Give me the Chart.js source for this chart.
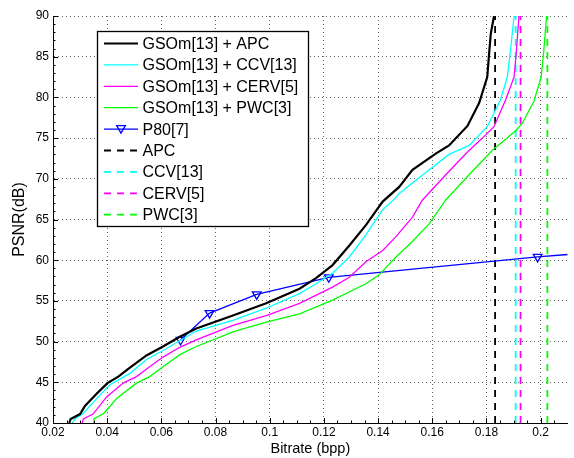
<!DOCTYPE html>
<html>
<head>
<meta charset="utf-8">
<script src="https://cdn.jsdelivr.net/npm/chart.js@4.4.1/dist/chart.umd.min.js"></script>
<style>
html, body { margin: 0; padding: 0; background: #fff; }
</style>
</head>
<body>
<canvas id="chart" width="574" height="458"></canvas>
<script>
// ejes
const xTicks = [0.02, 0.04, 0.06, 0.08, 0.1, 0.12, 0.14, 0.16, 0.18, 0.2];
const yTicks = [40, 45, 50, 55, 60, 65, 70, 75, 80, 85, 90];

// GSOm[13] + APC
const apcX = [0.026, 0.0265, 0.030, 0.0318, 0.0361, 0.0401, 0.0441, 0.0484, 0.0545, 0.0606, 0.0668, 0.0729, 0.0864, 0.0987, 0.111, 0.1171, 0.1232, 0.1294, 0.1355, 0.1417, 0.1478, 0.1527, 0.1613, 0.1662, 0.173, 0.1773, 0.1803, 0.181, 0.1816, 0.1828];
const apcY = [40, 40.5, 41.1, 42.1, 43.6, 44.9, 45.7, 46.8, 48.3, 49.4, 50.6, 51.6, 53.2, 54.7, 56.5, 57.8, 59.4, 61.8, 64.3, 67.2, 69.0, 71.1, 73.1, 74.1, 76.5, 79.3, 82.5, 85.4, 87.8, 90];

// GSOm[13] + CCV[13]
const ccvX = [0.0271, 0.0281, 0.0312, 0.0361, 0.041, 0.0484, 0.0545, 0.0606, 0.0668, 0.0729, 0.0864, 0.0987, 0.111, 0.1171, 0.1232, 0.1294, 0.1355, 0.1417, 0.146, 0.1478, 0.1589, 0.1662, 0.1736, 0.1803, 0.1852, 0.1877, 0.1889, 0.1902];
const ccvY = [40, 40.5, 41.2, 43.0, 44.7, 46.1, 47.8, 48.9, 50.1, 51.3, 52.6, 54.1, 55.9, 57.1, 58.4, 60.4, 63.1, 66.2, 67.5, 68.2, 71.1, 73.0, 74.1, 76.4, 79.7, 82.5, 85.8, 90];

// GSOm[13] + CERV[5]
const cervX = [0.0308, 0.0312, 0.0348, 0.0398, 0.0459, 0.0508, 0.0557, 0.0606, 0.0668, 0.0729, 0.0864, 0.0987, 0.111, 0.1232, 0.1294, 0.1355, 0.1417, 0.1466, 0.1527, 0.1564, 0.165, 0.173, 0.1785, 0.1828, 0.1871, 0.1902, 0.1911, 0.192];
const cervY = [40, 40.5, 41.1, 43.2, 44.9, 45.7, 46.9, 48.1, 49.3, 50.2, 52.0, 53.2, 54.7, 56.7, 57.9, 59.8, 61.2, 62.9, 65.3, 67.4, 70.5, 73.3, 75.0, 76.4, 79.7, 82.5, 85.8, 90];

// GSOm[13] + PWC[3]
const pwcX = [0.0348, 0.0351, 0.0388, 0.0435, 0.0508, 0.0557, 0.0606, 0.0668, 0.0729, 0.0864, 0.0987, 0.111, 0.1232, 0.1355, 0.1404, 0.1466, 0.1527, 0.1589, 0.165, 0.1736, 0.1822, 0.1908, 0.1932, 0.1975, 0.2002, 0.2012, 0.2022];
const pwcY = [40, 40.5, 41.2, 43.0, 44.9, 45.7, 46.9, 48.4, 49.4, 51.2, 52.4, 53.4, 55.1, 57.1, 58.2, 60.4, 62.3, 64.5, 67.4, 70.5, 73.5, 75.9, 76.8, 79.5, 82.5, 85.8, 90];

// P80[7] (el último punto sigue la recta hasta el borde, sin marcador)
const p80X = [0.0671, 0.0778, 0.0952, 0.1218, 0.1989, 0.21];
const p80Y = [50.2, 53.5, 55.8, 57.9, 60.4, 60.7];

// límites verticales (bpp)
const limitNames = ['APC', 'CCV[13]', 'CERV[5]', 'PWC[3]'];
const limitX = [0.1832, 0.1908, 0.1926, 0.2025];

const FONT = "'Liberation Sans', Arial, Helvetica, sans-serif";
const toXY = (xs, ys) => xs.map((x, i) => ({ x: x, y: ys[i] }));
const vline = x => [{ x: x, y: yTicks[0] }, { x: x, y: yTicks[yTicks.length - 1] }];

const curve = (label, xs, ys, color, width) => ({
    label: label, data: toXY(xs, ys), borderColor: color, backgroundColor: color,
    borderWidth: width, pointRadius: 0, showLine: true, tension: 0
});
const dashed = (label, x, color) => ({
    label: label, data: vline(x), borderColor: color, backgroundColor: color,
    borderWidth: 1.8, borderDash: [7, 6], pointRadius: 0, showLine: true
});

const datasets = [
    curve('GSOm[13] + APC', apcX, apcY, '#000000', 2.2),
    curve('GSOm[13] + CCV[13]', ccvX, ccvY, '#00ffff', 1.3),
    curve('GSOm[13] + CERV[5]', cervX, cervY, '#ff00ff', 1.3),
    curve('GSOm[13] + PWC[3]', pwcX, pwcY, '#00ff00', 1.3),
    {
        label: 'P80[7]', data: toXY(p80X, p80Y), borderColor: '#0000ff',
        backgroundColor: 'rgba(0,0,0,0)', borderWidth: 1.3, showLine: true, tension: 0,
        pointStyle: 'triangle', pointRotation: 180, pointBorderWidth: 1.3,
        pointRadius: p80X.map((x, i) => i < p80X.length - 1 ? 5 : 0),
        marker: true
    },
    dashed(limitNames[0], limitX[0], '#000000'),
    dashed(limitNames[1], limitX[1], '#00ffff'),
    dashed(limitNames[2], limitX[2], '#ff00ff'),
    dashed(limitNames[3], limitX[3], '#00ff00')
];

function drawTriangleDown(ctx, x, y, r) {
    ctx.beginPath();
    ctx.moveTo(x - r * 0.866, y - r * 0.5);
    ctx.lineTo(x + r * 0.866, y - r * 0.5);
    ctx.lineTo(x, y + r);
    ctx.closePath();
    ctx.stroke();
}

// marcas hacia dentro, estilo MATLAB
const innerTicks = {
    id: 'innerTicks',
    afterDatasetsDraw(chart) {
        const ctx = chart.ctx;
        const xs = chart.scales.x, ys = chart.scales.y;
        const a = chart.chartArea;
        ctx.save();
        ctx.strokeStyle = '#000';
        ctx.lineWidth = 1;
        ctx.beginPath();
        xTicks.forEach(v => {
            const px = Math.round(xs.getPixelForValue(v)) + 0.5;
            ctx.moveTo(px, a.bottom); ctx.lineTo(px, a.bottom - 5);
        });
        for (let v = 0.02; v <= 0.21; v += 0.005) {
            const px = Math.round(xs.getPixelForValue(v)) + 0.5;
            ctx.moveTo(px, a.bottom); ctx.lineTo(px, a.bottom - 2.5);
        }
        yTicks.forEach(v => {
            const py = Math.round(ys.getPixelForValue(v)) + 0.5;
            ctx.moveTo(a.left, py); ctx.lineTo(a.left + 5, py);
        });
        for (let v = 40; v <= 90; v += 1) {
            const py = Math.round(ys.getPixelForValue(v)) + 0.5;
            ctx.moveTo(a.left, py); ctx.lineTo(a.left + 2.5, py);
        }
        ctx.stroke();
        ctx.restore();
    }
};

// leyenda dentro del gráfico
const legendBox = {
    id: 'legendBox',
    afterDraw(chart) {
        const ctx = chart.ctx;
        const x0 = 97.5, y0 = 31.5, w = 211, h = 195;
        ctx.save();
        ctx.fillStyle = '#fff';
        ctx.fillRect(x0, y0, w, h);
        ctx.strokeStyle = '#000';
        ctx.lineWidth = 1.3;
        ctx.strokeRect(x0, y0, w, h);
        ctx.font = '16px ' + FONT;
        ctx.textBaseline = 'middle';
        ctx.textAlign = 'left';
        chart.data.datasets.forEach((ds, i) => {
            const y = 43.5 + i * 21.4;
            ctx.strokeStyle = ds.borderColor;
            ctx.lineWidth = ds.borderWidth;
            ctx.setLineDash(ds.borderDash || []);
            ctx.beginPath();
            ctx.moveTo(104, y);
            ctx.lineTo(138, y);
            ctx.stroke();
            ctx.setLineDash([]);
            if (ds.marker) {
                ctx.lineWidth = 1.3;
                drawTriangleDown(ctx, 121, y - 1, 5);
            }
            ctx.fillStyle = '#000';
            ctx.fillText(ds.label, 142.5, y + 1);
        });
        ctx.restore();
    }
};

new Chart(document.getElementById('chart').getContext('2d'), {
    type: 'scatter',
    data: { datasets: datasets },
    options: {
        responsive: false,
        animation: false,
        events: [],
        layout: { padding: { top: 16, right: 6, left: 0, bottom: 0 } },
        plugins: { legend: { display: false }, tooltip: { enabled: false } },
        scales: {
            x: {
                type: 'linear', min: 0.02, max: 0.21,
                afterBuildTicks: s => { s.ticks = xTicks.map(v => ({ value: v })); },
                afterFit: s => { s.height = 35; },
                ticks: { color: '#000', padding: 2, maxRotation: 0, font: { family: FONT, size: 12 }, callback: v => String(v) },
                grid: { color: 'rgba(0,0,0,0.6)', lineWidth: 1, drawTicks: false },
                border: { display: true, color: '#000', width: 1, dash: [1, 3] },
                title: { display: true, text: 'Bitrate (bpp)', color: '#000', font: { family: FONT, size: 14.5 }, padding: { top: 0, bottom: 0 } }
            },
            y: {
                type: 'linear', min: 40, max: 90,
                afterBuildTicks: s => { s.ticks = yTicks.map(v => ({ value: v })); },
                afterFit: s => { s.width = 53; },
                ticks: { color: '#000', padding: 4, font: { family: FONT, size: 12 } },
                grid: { color: 'rgba(0,0,0,0.6)', lineWidth: 1, drawTicks: false },
                border: { display: true, color: '#000', width: 1, dash: [1, 3] },
                title: { display: true, text: 'PSNR(dB)', color: '#000', font: { family: FONT, size: 16 }, padding: { top: 10, bottom: 0 } }
            }
        }
    },
    plugins: [innerTicks, legendBox]
});
</script>
</body>
</html>
